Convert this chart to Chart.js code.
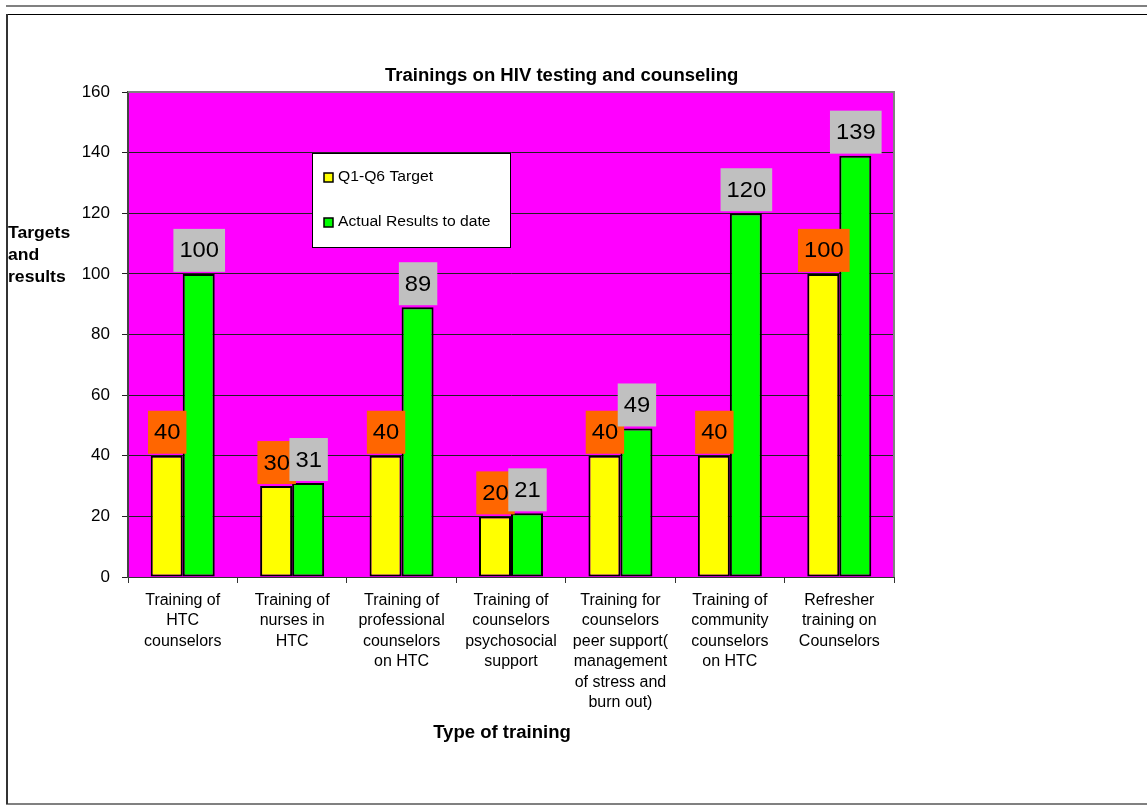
<!DOCTYPE html>
<html>
<head>
<meta charset="utf-8">
<script src="https://cdn.jsdelivr.net/npm/chart.js@4/dist/chart.umd.min.js"></script>
<style>
html,body{margin:0;padding:0;background:#fff;}
#wrap{position:relative;width:1147px;height:809px;}
</style>
</head>
<body>
<div id="wrap"><canvas id="c" width="1147" height="809"></canvas></div>
<script>
const categories = [
  ["Training of","HTC","counselors"],
  ["Training of","nurses in","HTC"],
  ["Training of","professional","counselors","on HTC"],
  ["Training of","counselors","psychosocial","support"],
  ["Training for","counselors","peer support(","management","of stress and","burn out)"],
  ["Training of","community","counselors","on HTC"],
  ["Refresher","training on","Counselors"]
];
const targetValues = [40, 30, 40, 20, 40, 40, 100];
const actualValues = [100, 31, 89, 21, 49, 120, 139];
const seriesNames = ["Q1-Q6 Target", "Actual Results to date"];
const yTicks = [0, 20, 40, 60, 80, 100, 120, 140, 160];
const chartTitle = "Trainings on HIV testing and counseling";
const yTitle = ["Targets", "and", "results"];
const xTitle = "Type of training";

const FONT = "Arial, 'Liberation Sans', sans-serif";

function wideText(ctx, txt, x, y, sx) {
  ctx.save();
  ctx.translate(x, y);
  ctx.scale(sx, 1);
  ctx.fillText(txt, 0, 0);
  ctx.restore();
}

const framePlugin = {
  id: 'frame',
  beforeDraw(chart) {
    const ctx = chart.ctx;
    ctx.save();
    ctx.fillStyle = '#fff';
    ctx.fillRect(0, 0, chart.width, chart.height);
    ctx.strokeStyle = '#808080';
    ctx.lineWidth = 2;
    ctx.beginPath(); ctx.moveTo(6, 6); ctx.lineTo(1147, 6); ctx.stroke();
    ctx.beginPath(); ctx.moveTo(6, 804); ctx.lineTo(1147, 804); ctx.stroke();
    ctx.strokeStyle = '#000';
    ctx.lineWidth = 1;
    ctx.beginPath(); ctx.moveTo(7, 14.5); ctx.lineTo(1147, 14.5); ctx.stroke();
    ctx.strokeStyle = '#333';
    ctx.lineWidth = 2;
    ctx.beginPath(); ctx.moveTo(7, 14); ctx.lineTo(7, 804); ctx.stroke();
    const a = chart.chartArea;
    ctx.fillStyle = '#FF00FF';
    ctx.fillRect(a.left, a.top, a.right - a.left, a.bottom - a.top);
    ctx.restore();
  },
  afterDatasetsDraw(chart) {
    const ctx = chart.ctx;
    const a = chart.chartArea;
    ctx.save();
    ctx.strokeStyle = '#808080';
    ctx.lineWidth = 2;
    ctx.beginPath();
    ctx.moveTo(a.left, a.top); ctx.lineTo(a.right, a.top); ctx.lineTo(a.right, a.bottom);
    ctx.stroke();
    // data labels
    ctx.font = '22px ' + FONT;
    ctx.textAlign = 'center';
    ctx.textBaseline = 'middle';
    const bg = ['#FF6600', '#C0C0C0'];
    chart.data.datasets.forEach((ds, di) => {
      const meta = chart.getDatasetMeta(di);
      meta.data.forEach((bar, i) => {
        const txt = String(ds.data[i]);
        const tw = ctx.measureText(txt).width * 1.08;
        const w = tw + 12;
        const h = 43;
        const x = bar.x + 0.5;
        const bottom = bar.y - 2;
        ctx.fillStyle = bg[di];
        ctx.fillRect(x - w / 2, bottom - h, w, h);
        ctx.fillStyle = '#000';
        wideText(ctx, txt, x, bottom - h / 2 + 1, 1.08);
      });
    });
    // titles
    ctx.fillStyle = '#000';
    ctx.font = 'bold 18px ' + FONT;
    ctx.textAlign = 'left';
    ctx.textBaseline = 'alphabetic';
    wideText(ctx, chartTitle, 385, 81, 1.03);
    ctx.font = 'bold 18px ' + FONT;
    ctx.textAlign = 'center';
    wideText(ctx, xTitle, 502, 738, 1.03);
    ctx.font = 'bold 16px ' + FONT;
    ctx.textAlign = 'left';
    yTitle.forEach((t, i) => wideText(ctx, t, 8, 238 + i * 22, 1.1));
    // legend
    const lx = 312, ly = 153, lw = 198, lh = 94;
    ctx.fillStyle = '#fff';
    ctx.fillRect(lx, ly, lw, lh);
    ctx.strokeStyle = '#000';
    ctx.lineWidth = 1;
    ctx.strokeRect(lx + 0.5, ly + 0.5, lw, lh);
    ctx.font = '14px ' + FONT;
    ctx.textBaseline = 'middle';
    const lcol = ['#FFFF00', '#00FF00'];
    [177, 222].forEach((yy, i) => {
      ctx.fillStyle = lcol[i];
      ctx.fillRect(324, yy - 4, 9, 9);
      ctx.strokeStyle = '#000';
      ctx.lineWidth = 1.5;
      ctx.strokeRect(324, yy - 4, 9, 9);
      ctx.fillStyle = '#000';
      wideText(ctx, seriesNames[i], 338, yy, 1.12);
    });
    ctx.restore();
  }
};

new Chart(document.getElementById('c'), {
  type: 'bar',
  data: {
    labels: categories,
    datasets: [
      { label: seriesNames[0], data: targetValues, backgroundColor: '#FFFF00', borderColor: '#000', borderWidth: 2, borderSkipped: false },
      { label: seriesNames[1], data: actualValues, backgroundColor: '#00FF00', borderColor: '#000', borderWidth: 2, borderSkipped: false }
    ]
  },
  options: {
    responsive: false,
    animation: false,
    devicePixelRatio: 1,
    layout: { padding: { left: 0, top: 92, right: 253, bottom: 32 } },
    plugins: { legend: { display: false }, title: { display: false }, tooltip: { enabled: false } },
    datasets: { bar: { categoryPercentage: 0.585, barPercentage: 1 } },
    scales: {
      x: {
        offset: true,
        grid: { display: true, offset: true, drawOnChartArea: false, drawTicks: true, tickLength: 6, color: '#333', lineWidth: 1 },
        border: { display: true, color: '#333', width: 1 },
        ticks: { color: '#000', font: { family: FONT, size: 16, lineHeight: 1.28 }, maxRotation: 0, minRotation: 0, autoSkip: false, padding: 7 },
        afterFit(s) { s.height = 200; }
      },
      y: {
        min: 0, max: 160,
        afterBuildTicks(s) { s.ticks = yTicks.map(v => ({ value: v })); },
        grid: { color: '#222', lineWidth: 1, tickLength: 6, drawTicks: true },
        border: { display: true, color: '#444', width: 2 },
        ticks: { color: '#000', font: { family: FONT, size: 17 }, padding: 12 },
        afterFit(s) { s.width = 128; }
      }
    }
  },
  plugins: [framePlugin]
});
</script>
</body>
</html>
